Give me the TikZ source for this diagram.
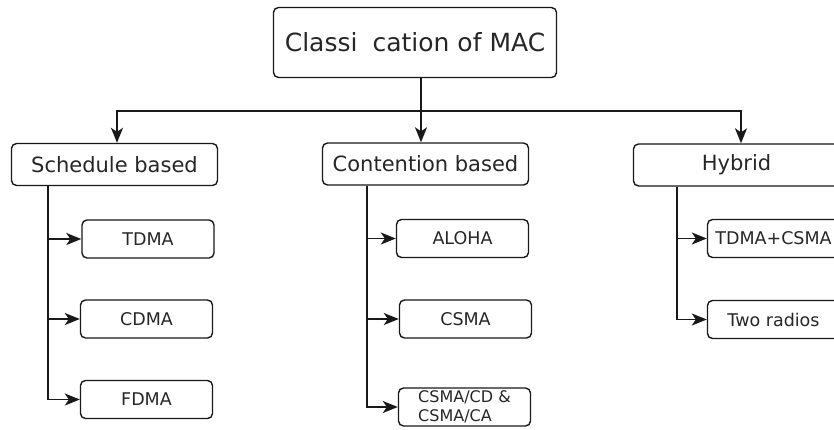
\documentclass[tikz,border=0pt]{standalone}
\usepackage{fontspec}
\setmainfont{DejaVu Sans}
\usetikzlibrary{arrows.meta}

\begin{document}
\begin{tikzpicture}[x=1pt, y=-1pt, line width=1.6pt, draw=black!90,
  every node/.append style={text=black!85},
  box/.style={draw, line width=1.4pt, rounded corners=5pt, inner sep=0pt},
  topbox/.style={box, minimum width=283pt, minimum height=70pt, font=\fontsize{25}{30}\selectfont},
  catbox/.style={box, minimum width=206pt, minimum height=42pt, font=\fontsize{21}{26}\selectfont},
  leafbox/.style={box, minimum width=132pt, minimum height=38pt, font=\fontsize{17.5}{21}\selectfont},
  arr/.style={-{Stealth[length=15pt, width=12pt, inset=4pt]}}]
  \useasboundingbox (0,0) rectangle (834,429);
  \clip (0,0) rectangle (834,429);
  % nodes
  \node[topbox] (mac) at (415,42.5) {Classi\hspace{0.6em}cation of MAC};
  \node[catbox] (sched) at (114.5,164.5) {Schedule based};
  \node[catbox] (cont) at (425.5,164) {Contention based};
  \node[catbox] (hyb) at (736.5,165) {Hybrid};
  \node[leafbox] (tdma) at (148,239) {TDMA};
  \node[leafbox] (cdma) at (146.5,319) {CDMA};
  \node[leafbox] (fdma) at (146.5,399.5) {FDMA};
  \node[leafbox] (aloha) at (462.5,238.5) {ALOHA};
  \node[leafbox] (csma) at (465.5,319) {CSMA};
  \node[leafbox, align=left, font=\fontsize{16}{19}\selectfont] (csmacd) at (464.5,407) {CSMA/CD \&\\CSMA/CA};
  \node[leafbox] (tdmacsma) at (773.5,238.5) {TDMA+CSMA};
  \node[leafbox] (radios) at (773.5,319.5) {Two radios};
  % connectors
  \coordinate (bus) at (421,111);
  \coordinate (sx) at (48,0);
  \coordinate (cx) at (367,0);
  \coordinate (hx) at (677,0);
  \draw (mac.south -| bus) -- (bus);
  \draw[arr] (bus) -| ([xshift=2.5pt]sched.north);
  \draw[arr] (bus) -| ([xshift=4.5pt]hyb.north);
  \draw[arr] (bus) -- (cont.north -| bus);
  \foreach \leaf in {tdma,cdma,fdma}
    \draw[arr] (sched.south -| sx) |- (\leaf.west);
  \foreach \leaf in {aloha,csma,csmacd}
    \draw[arr] (cont.south -| cx) |- (\leaf.west);
  \foreach \leaf in {tdmacsma,radios}
    \draw[arr] (hyb.south -| hx) |- (\leaf.west);
\end{tikzpicture}
\end{document}
